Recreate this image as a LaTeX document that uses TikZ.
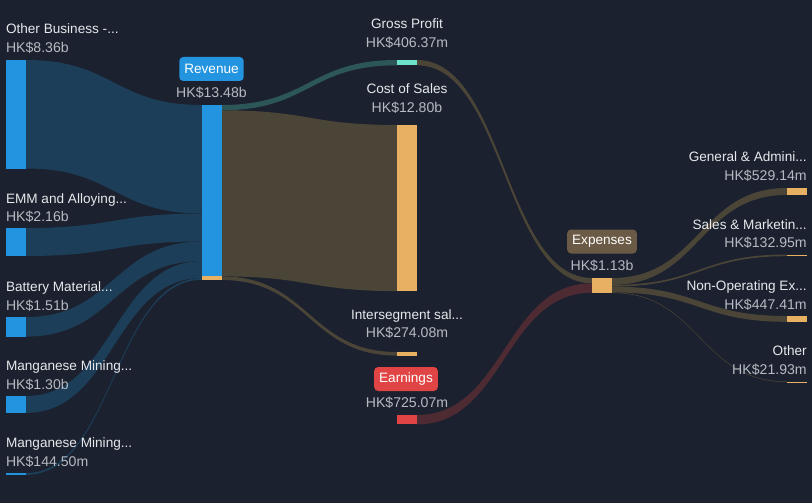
\documentclass[tikz,border=0pt]{standalone}
\usepackage{fontspec}
\setmainfont{Liberation Sans}
\usetikzlibrary{calc}
\definecolor{bgc}{RGB}{27,33,46}
\definecolor{barblue}{RGB}{35,148,223}
\definecolor{flowblue}{RGB}{29,62,88}
\definecolor{flowbrown}{RGB}{75,69,56}
\definecolor{barorange}{RGB}{232,176,98}
\definecolor{barteal}{RGB}{109,227,204}
\definecolor{flowteal}{RGB}{44,86,88}
\definecolor{barred}{RGB}{224,68,68}
\definecolor{flowred}{RGB}{78,42,50}
\definecolor{boxbrown}{RGB}{107,90,69}
\definecolor{labc}{RGB}{230,232,236}
\definecolor{valc}{RGB}{182,186,194}
\newcommand\band[6]{%
  \fill[#1] let \p1=(#2.north east), \p2=(#4.north west) in
   (\x1,{\y1-#3pt}) .. controls ({(\x1+\x2)/2},{\y1-#3pt}) and ({(\x1+\x2)/2},{\y2-#5pt}) .. (\x2,{\y2-#5pt})
   -- (\x2,{\y2-#5pt-#6pt}) .. controls ({(\x1+\x2)/2},{\y2-#5pt-#6pt}) and ({(\x1+\x2)/2},{\y1-#3pt-#6pt}) .. (\x1,{\y1-#3pt-#6pt}) -- cycle;}
\tikzset{
  bar/.style={rectangle, inner sep=0pt, outer sep=0pt, minimum width=20pt, anchor=north west, draw=none},
  lab/.style={inner sep=0pt, outer sep=0pt, text=labc, font=\fontsize{13.6}{16}\selectfont},
  val/.style={inner sep=0pt, outer sep=0pt, text=valc, font=\fontsize{14.1}{16}\selectfont},
  tag/.style={rounded corners=4pt, inner xsep=5pt, inner ysep=0pt, minimum height=24pt, text=white, font=\fontsize{13.6}{16}\selectfont}
}
\begin{document}
\begin{tikzpicture}[x=1pt,y=-1pt]
\fill[bgc] (0,0) rectangle (812,503);
\path[use as bounding box] (0,0) rectangle (812,503);
% bars (nodes)
\node[bar, fill=barblue, minimum height=108.5pt] (ob) at (6,60) {};
\node[bar, fill=barblue, minimum height=28pt] (emm) at (6,228) {};
\node[bar, fill=barblue, minimum height=19.6pt] (bat) at (6,317) {};
\node[bar, fill=barblue, minimum height=16.9pt] (mma) at (6,396) {};
\node[bar, fill=barblue, minimum height=1.9pt] (mmb) at (6,473) {};
\node[bar, fill=barblue, minimum height=175pt, minimum width=19.5pt] (rev) at (202,105) {};
\node[bar, fill=barteal, minimum height=5.3pt] (gp) at (397,60) {};
\node[bar, fill=barorange, minimum height=166.1pt] (cos) at (397,125) {};
\node[bar, fill=barorange, minimum height=3.6pt] (inter) at (397,352) {};
\node[bar, fill=barred, minimum height=9.4pt] (earn) at (397,415) {};
\node[bar, fill=barorange, minimum height=14.7pt] (exp) at (592,278) {};
\node[bar, fill=barorange, minimum height=6.9pt] (gen) at (787,188) {};
\node[bar, fill=barorange, minimum height=1.7pt] (sales) at (787,254.5) {};
\node[bar, fill=barorange, minimum height=5.8pt] (nonop) at (787,316) {};
\node[bar, fill=barorange, minimum height=1pt] (other) at (787,381.5) {};
% flows
\band{flowblue}{ob}{0}{rev}{0}{108.5}
\band{flowblue}{emm}{0}{rev}{108.5}{28}
\band{flowblue}{bat}{0}{rev}{136.5}{19.6}
\band{flowblue}{mma}{0}{rev}{156.1}{16.9}
\band{flowblue}{mmb}{0}{rev}{173.0}{1.9}
\band{flowteal}{rev}{0}{gp}{0}{5.3}
\band{flowbrown}{rev}{5.3}{cos}{0}{166.1}
\band{flowbrown}{rev}{171.4}{inter}{0}{3.6}
\band{flowbrown}{gp}{0}{exp}{0}{5.3}
\band{flowred}{earn}{0}{exp}{5.3}{9.4}
\band{flowbrown}{exp}{0}{gen}{0}{6.9}
\band{flowbrown}{exp}{6.9}{sales}{0}{1.7}
\band{flowbrown}{exp}{8.6}{nonop}{0}{5.8}
\band{flowbrown}{exp}{14.4}{other}{0}{0.6}
% redraw bars over flows
\fill[barblue] (ob.north west) rectangle (ob.south east);
\fill[barblue] (emm.north west) rectangle (emm.south east);
\fill[barblue] (bat.north west) rectangle (bat.south east);
\fill[barblue] (mma.north west) rectangle (mma.south east);
\fill[barblue] (mmb.north west) rectangle (mmb.south east);
\fill[barblue] (rev.north west) rectangle (rev.south east);
\node[bar, fill=barorange, minimum height=3.6pt, minimum width=19.5pt] (revi) at (202,276.4) {};
\fill[barteal] (gp.north west) rectangle (gp.south east);
\fill[barorange] (cos.north west) rectangle (cos.south east);
\fill[barorange] (inter.north west) rectangle (inter.south east);
\fill[barred] (earn.north west) rectangle (earn.south east);
\fill[barorange] (exp.north west) rectangle (exp.south east);
\fill[barorange] (gen.north west) rectangle (gen.south east);
\fill[barorange] (sales.north west) rectangle (sales.south east);
\fill[barorange] (nonop.north west) rectangle (nonop.south east);
\fill[barorange] (other.north west) rectangle (other.south east);
% left labels
\node[lab, anchor=base west] (tob) at (6,34) {Other Business -...};
\node[val, anchor=base west] (vob) at (6,52.7) {HK\$8.36b};
\node[lab, anchor=base west] (temm) at (6,203.3) {EMM and Alloying...};
\node[val, anchor=base west] (vemm) at (6,221.7) {HK\$2.16b};
\node[lab, anchor=base west] (tbat) at (6,291.3) {Battery Material...};
\node[val, anchor=base west] (vbat) at (6,310) {HK\$1.51b};
\node[lab, anchor=base west] (tmma) at (6,370.7) {Manganese Mining...};
\node[val, anchor=base west] (vmma) at (6,389.3) {HK\$1.30b};
\node[lab, anchor=base west] (tmmb) at (6,447.5) {Manganese Mining...};
\node[val, anchor=base west] (vmmb) at (6,466) {HK\$144.50m};
% revenue
\node[tag, fill=barblue] (trev) at (211.5,69) {Revenue};
\node[val, anchor=base] (vrev) at (211.5,97.7) {HK\$13.48b};
% middle
\node[lab, anchor=base] (tgp) at (407,28.3) {Gross Profit};
\node[val, anchor=base] (vgp) at (407,47.3) {HK\$406.37m};
\node[lab, anchor=base] (tcos) at (407,93.3) {Cost of Sales};
\node[val, anchor=base] (vcos) at (407,112.3) {HK\$12.80b};
\node[lab, anchor=base] (tint) at (407,319.3) {Intersegment sal...};
\node[val, anchor=base] (vint) at (407,337.7) {HK\$274.08m};
\node[tag, fill=barred] (tearn) at (406,379) {Earnings};
\node[val, anchor=base] (vearn) at (407,407.7) {HK\$725.07m};
% expenses
\node[tag, fill=boxbrown] (texp) at (602,241.5) {Expenses};
\node[val, anchor=base] (vexp) at (602,270.7) {HK\$1.13b};
% right labels
\node[lab, anchor=base east] (tgen) at (806.7,161.7) {General \& Admini...};
\node[val, anchor=base east] (vgen) at (806.7,180.7) {HK\$529.14m};
\node[lab, anchor=base east] (tsal) at (806.7,229) {Sales \& Marketin...};
\node[val, anchor=base east] (vsal) at (806.7,247.7) {HK\$132.95m};
\node[lab, anchor=base east] (tnon) at (806.7,290) {Non-Operating Ex...};
\node[val, anchor=base east] (vnon) at (806.7,309) {HK\$447.41m};
\node[lab, anchor=base east] (toth) at (806.7,355) {Other};
\node[val, anchor=base east] (voth) at (806.7,374.3) {HK\$21.93m};
\end{tikzpicture}
\end{document}
